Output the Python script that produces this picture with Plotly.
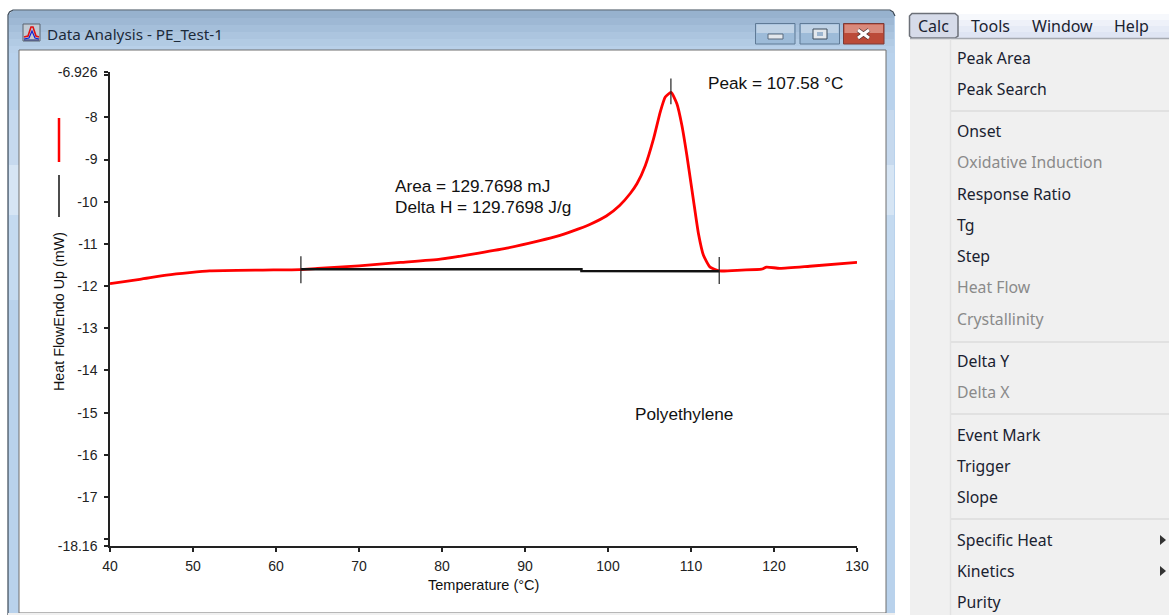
import plotly.graph_objects as go

# ---- chart data ----
temperature = [40, 43.6, 46.8, 49.6, 52, 58.4, 62.9, 65, 70, 75, 79.8, 83.7, 87.8, 91.8, 93.8, 95.8, 97.8,
               99.8, 101.4, 102.7, 103.5, 104.5, 105.5, 106.3, 106.9, 107.6, 108.3, 108.9, 109.5,
               110.0, 110.3, 110.9, 111.5, 112.3, 113.4, 116.1, 118.5, 119.1, 120.7, 124.3, 130]
heat_flow = [-11.94, -11.84, -11.74, -11.68, -11.64, -11.62, -11.61, -11.58, -11.52, -11.44, -11.36,
             -11.24, -11.1, -10.92, -10.82, -10.69, -10.54, -10.34, -10.09, -9.8, -9.57, -9.14, -8.5, -7.87,
             -7.52, -7.41, -7.68, -8.19, -8.9, -9.57, -9.97, -10.76, -11.27, -11.55, -11.64, -11.62,
             -11.6, -11.55, -11.58, -11.53, -11.44]
baseline_t = [63, 96.8, 96.8, 113.4]
baseline_y = [-11.6, -11.6, -11.64, -11.65]
mark_start_t = [63, 63]
mark_start_y = [-11.29, -11.93]
mark_end_t = [113.4, 113.4]
mark_end_y = [-11.31, -11.95]
mark_peak_t = [107.58, 107.58]
mark_peak_y = [-7.08, -7.69]

x_ticks = [40, 50, 60, 70, 80, 90, 100, 110, 120, 130]
y_ticks = [-6.926, -7, -8, -9, -10, -11, -12, -13, -14, -15, -16, -17, -18, -18.16]
y_tick_text = ["-6.926", "", "-8", "-9", "-10", "-11", "-12", "-13", "-14", "-15", "-16", "-17", "", "-18.16"]

window_title = "Data Analysis - PE_Test-1"
menu_bar = ["Calc", "Tools", "Window", "Help"]
menu_items = ["Peak Area", "Peak Search", "Onset", "Oxidative Induction", "Response Ratio", "Tg",
              "Step", "Heat Flow", "Crystallinity", "Delta Y", "Delta X", "Event Mark", "Trigger",
              "Slope", "Specific Heat", "Kinetics", "Purity"]
disabled_items = ["Oxidative Induction", "Heat Flow", "Crystallinity", "Delta X"]

# ---- page geometry (pixels) ----
W, H = 1169, 615
L, R, T, B = 110, 857, 72, 546
def px(v): return (v - L) / (R - L)
def py(v): return 1 - (v - T) / (B - T)

CHART_FONT = "Liberation Sans"
UI_FONT = "Noto Sans"
shapes, notes = [], []

def rect(x0, y0, x1, y1, fill, line=None, lw=1):
    shapes.append(dict(type="rect", xref="paper", yref="paper", layer="below",
                       x0=px(x0), x1=px(x1), y0=py(y0), y1=py(y1), fillcolor=fill,
                       line=dict(color=line or "rgba(0,0,0,0)", width=lw if line else 0)))

def seg(x0, y0, x1, y1, color, lw=1):
    shapes.append(dict(type="line", xref="paper", yref="paper", layer="below",
                       x0=px(x0), x1=px(x1), y0=py(y0), y1=py(y1), line=dict(color=color, width=lw)))

def poly(pts, fill=None, line=None, lw=1):
    path = "M " + " L ".join(f"{px(a)} {py(b)}" for a, b in pts) + (" Z" if fill else "")
    shapes.append(dict(type="path", xref="paper", yref="paper", layer="below", path=path,
                       fillcolor=fill or "rgba(0,0,0,0)",
                       line=dict(color=line or "rgba(0,0,0,0)", width=lw if line else 0)))

def text(x, y, s, size, color="#111111", font=CHART_FONT, anchor="left", angle=0):
    notes.append(dict(xref="paper", yref="paper", x=px(x), y=py(y), text=s, showarrow=False,
                      xanchor=anchor, yanchor="middle", textangle=angle, borderpad=0,
                      font=dict(family=font, size=size, color=color)))

# window frame
rect(8, 10, 895, 615, "#b9d2ec")
bands = ["#97b2ce", "#9eb8d4", "#a5bfda", "#acc5df", "#b2cbe4", "#b8d0e9"]
for i, c in enumerate(bands):
    rect(9, 11 + i * 7, 894, 18 + i * 7, c)
for y0, y1, c in ((110, 165, "#c6d9ee"), (165, 215, "#d6e5f4"), (215, 300, "#c4daf0")):
    rect(9, y0, 19, y1, c)
    rect(886, y0, 894, y1, c)
# rounded top corners
poly([(7, 9), (14, 9), (7, 16)], fill="#ffffff")
poly([(896, 9), (889, 9), (896, 16)], fill="#ffffff")
poly([(8, 615), (8, 15), (9.5, 12), (13, 10), (890, 10), (893, 12), (895, 16)], line="#3c4a58", lw=1.2)
rect(19, 50, 886, 613, "#ffffff", "#6f6f6f", 1)
rect(8, 613, 895, 615, "#f0f0f0")

# window icon
rect(23, 24, 40, 41, "#c3cbd4", "#5a6570", 1)
poly([(24, 37), (28, 36), (31, 27), (33, 27), (36, 36), (39, 37)], line="#e01010", lw=1.6)
poly([(24, 39), (29, 38), (32, 31), (35, 38), (39, 39)], line="#1020d0", lw=1.2)
seg(24, 40, 39, 40, "#202a70", 1)
text(46, 34, window_title, 15.3, "#1c2a3a", UI_FONT)

# caption buttons
rect(755.5, 23.5, 795, 44, "#9dbbd8", "#5f7a96", 1)
rect(756.5, 24.5, 794, 33, "#bfd2e5")
rect(800, 23.5, 839.5, 44, "#9dbbd8", "#5f7a96", 1)
rect(801, 24.5, 838.5, 33, "#bfd2e5")
rect(843.5, 23.5, 884, 44, "#bb4a38", "#7c3a36", 1)
rect(844.5, 24.5, 883, 33, "#d98a7c")
rect(768, 34, 783, 39, "#e3e8ed", "#5a6a7c", 1)
rect(813, 29, 827, 39, "#e3e8ed", "#3c4c5c", 1)
rect(817, 32, 823, 36, "#9db6d0")
seg(858, 30, 869, 38, "#4a3030", 4.5)
seg(869, 30, 858, 38, "#4a3030", 4.5)
seg(858, 30, 869, 38, "#ffffff", 3)
seg(869, 30, 858, 38, "#ffffff", 3)

# menu
rect(910, 38, 1169, 615, "#f0f0f0")
for i, c in enumerate(["#f6f8fc", "#eef1f9", "#e6ebf6", "#dfe5f3"]):
    rect(910, 14 + i * 6, 1169, 20 + i * 6, c)
poly([(912, 13.5), (955, 13.5), (958, 16), (958, 36), (955, 38), (912, 38), (909.5, 36), (909.5, 16)],
     fill="#d6dbe9", line="#6c7078", lw=1.5)
seg(910, 38.5, 1169, 38.5, "#a5a9b0", 1.5)
seg(950.5, 39, 950.5, 615, "#e3e3e3", 1.5)
for y in (111, 342, 414, 519):
    seg(951, y, 1169, y, "#dcdcdc", 1.5)
for y in (540, 571):
    poly([(1160, y - 5), (1166, y), (1160, y + 5)], fill="#333333")

for s, x in zip(menu_bar, (933.5, 990.5, 1062.5, 1131.5)):
    text(x, 26, s, 16, "#1a2230", UI_FONT, anchor="center")
for s, y in zip(menu_items, (58, 89, 131, 162, 194, 225, 256, 287, 319, 361, 392, 435, 466, 497, 540, 571, 602)):
    text(955.5, y, s, 15.8, "#8a8a8a" if s in disabled_items else "#1a2230", UI_FONT)

# legend samples and chart texts
seg(59, 118, 59, 162, "#ff0000", 2.5)
seg(59, 175, 59, 217, "#111111", 1.5)
text(59, 312, "Heat FlowEndo Up (mW)", 14.3, anchor="center", angle=-90)
text(393.5, 186, "Area = 129.7698 mJ", 17.2)
text(393.5, 207, "Delta H = 129.7698 J/g", 17.2)
text(706.5, 83, "Peak = 107.58 °C", 17.2)
text(633.5, 414, "Polyethylene", 17.2)
text(483.5, 585, "Temperature (°C)", 14.5, anchor="center")

fig = go.Figure()
fig.add_trace(go.Scatter(x=temperature, y=heat_flow, mode="lines",
                         line=dict(color="#ff0000", width=2.8, shape="spline", smoothing=0.5)))
fig.add_trace(go.Scatter(x=baseline_t, y=baseline_y, mode="lines", line=dict(color="#111111", width=2.5)))
for mt, my in ((mark_start_t, mark_start_y), (mark_end_t, mark_end_y), (mark_peak_t, mark_peak_y)):
    fig.add_trace(go.Scatter(x=mt, y=my, mode="lines", line=dict(color="#222222", width=1.2)))

axis_common = dict(showgrid=False, zeroline=False, showline=True, linecolor="#222222", linewidth=1.5,
                   ticks="outside", ticklen=4, tickwidth=1.5, tickcolor="#222222",
                   tickfont=dict(family=CHART_FONT, size=14, color="#222222"))
fig.update_layout(
    width=W, height=H, autosize=False, showlegend=False,
    margin=dict(l=L, r=W - R, t=T, b=H - B, pad=0),
    paper_bgcolor="#ffffff", plot_bgcolor="rgba(0,0,0,0)",
    xaxis=dict(range=[40, 130], tickmode="array", tickvals=x_ticks, ticktext=[str(v) for v in x_ticks],
               ticklabelstandoff=2, **axis_common),
    yaxis=dict(range=[-18.16, -6.926], tickmode="array", tickvals=y_ticks, ticktext=y_tick_text,
               ticklabelstandoff=4, **axis_common),
    shapes=shapes, annotations=notes,
)
fig.write_html("out.html", config=dict(displayModeBar=False),
               post_script="document.body.style.margin='0';document.documentElement.style.overflow='hidden';")
